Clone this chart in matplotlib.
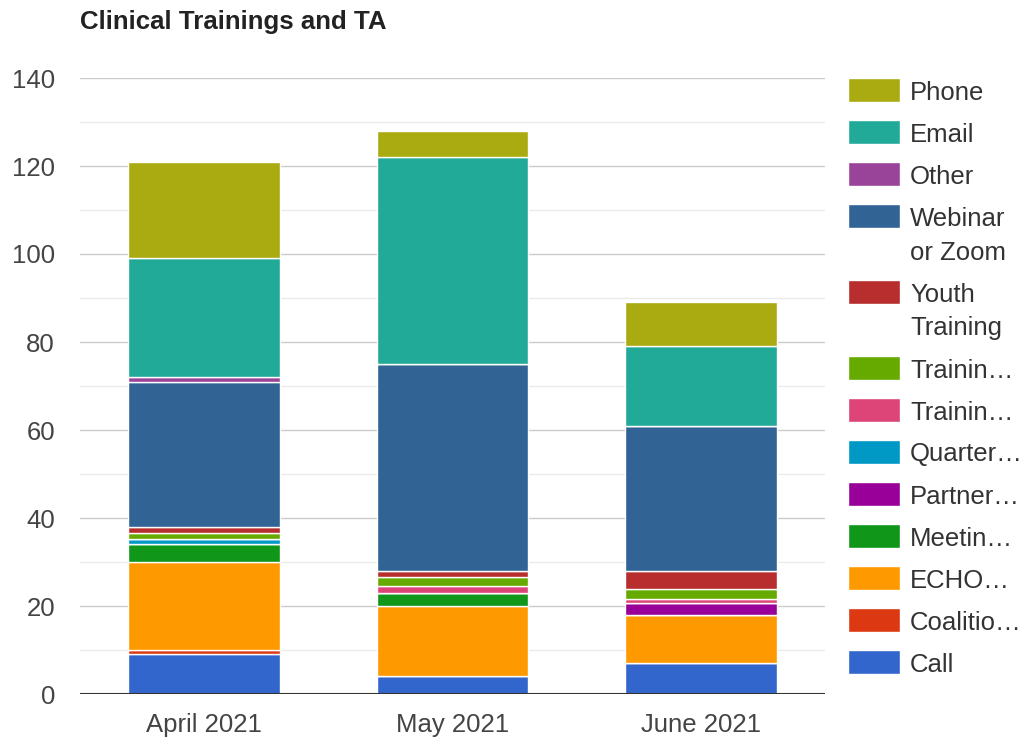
import matplotlib.pyplot as plt
import numpy as np
from matplotlib.patches import Rectangle

plt.rcParams['font.family'] = ['Liberation Sans', 'DejaVu Sans']

# ===== Daten =====
months = ["April 2021", "May 2021", "June 2021"]

# Stapelreihenfolge von unten nach oben
call       = [9, 4, 7]
coalition  = [1, 0, 0]
echo       = [20, 16, 11]
meeting    = [4, 3, 0]
partner    = [0, 0, 2.7]
quarterly  = [1.3, 0, 0]
train_pink = [0, 1.6, 1.0]
train_grn  = [1.3, 1.9, 2.1]
youth      = [1.4, 1.5, 4.2]
webinar    = [33, 47, 33]
other      = [1, 0, 0]
email      = [27, 47, 18]
phone      = [22, 6, 10]

values = [call, coalition, echo, meeting, partner, quarterly, train_pink,
          train_grn, youth, webinar, other, email, phone]

colors = ["#3366cc", "#dc3912", "#ff9900", "#109618", "#990099", "#0099c6",
          "#dd4477", "#66aa00", "#b82e2e", "#316395", "#994499", "#22aa99",
          "#aaaa11"]

legend_labels = ["Call", "Coalitio…", "ECHO…", "Meetin…", "Partner…", "Quarter…",
                 "Trainin…", "Trainin…", "Youth\nTraining", "Webinar\nor Zoom",
                 "Other", "Email", "Phone"]

W, H = 1029, 740

# ===== Plot =====
fig = plt.figure(figsize=(W / 100, H / 100), dpi=100)
ax = fig.add_axes([80 / W, 1 - 694 / H, 745 / W, 616 / H])

x = np.arange(len(months))
bottom = np.zeros(len(months))
for vals, col in zip(values, colors):
    vals = np.array(vals, dtype=float)
    ax.bar(x, vals, width=0.61, bottom=bottom, color=col,
           edgecolor="white", linewidth=1.0, zorder=3)
    bottom += vals

ax.set_xlim(-0.5, 2.5)
ax.set_ylim(0, 140)
ax.set_yticks(np.arange(0, 141, 20))
ax.set_yticks(np.arange(10, 141, 20), minor=True)
ax.set_xticks(x)
ax.set_xticklabels(months)

ax.grid(True, axis="y", which="major", color="#cccccc", linewidth=1.0, zorder=0)
ax.grid(True, axis="y", which="minor", color="#ebebeb", linewidth=1.0, zorder=0)
ax.axhline(0, color="#333333", linewidth=1.5, zorder=4)

for s in ax.spines.values():
    s.set_visible(False)
ax.tick_params(axis="both", which="both", length=0, labelsize=18.5,
               labelcolor="#444444")
ax.tick_params(axis="y", pad=18)
ax.tick_params(axis="x", pad=14)

fig.text(80 / W, 1 - 22 / H, "Clinical Trainings and TA", fontsize=18.6,
         fontweight="bold", color="#222222", va="center", ha="left")

# ===== Legende (oben: Phone, unten: Call) =====
y = 90
for lab, col in zip(legend_labels[::-1], colors[::-1]):
    fig.add_artist(Rectangle((848 / W, 1 - (y + 12) / H), 52 / W, 24 / H,
                             facecolor=col, edgecolor="white", linewidth=1,
                             transform=fig.transFigure))
    for i, line in enumerate(lab.split("\n")):
        fig.text(910 / W, 1 - (y + 34 * i) / H, line, fontsize=18.5,
                 color="#333333", va="center_baseline", ha="left")
    y += 42 + 34 * (lab.count("\n"))

plt.savefig("out.png", dpi=100)
